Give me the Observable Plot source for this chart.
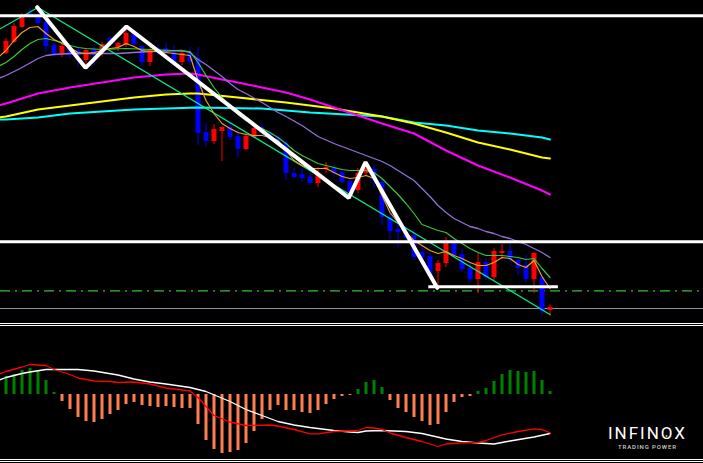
<!DOCTYPE html>
<html>
<head>
<meta charset="utf-8">
<script src="https://cdn.jsdelivr.net/npm/d3@7"></script>
<script src="https://cdn.jsdelivr.net/npm/@observablehq/plot@0.6"></script>
<style>
  html, body { margin:0; padding:0; background:#000; }
  #chart { position:relative; width:703px; height:463px; background:#000; overflow:hidden; }
  #chart svg { display:block; }
  .hl { height:1px; background:#fff; }
  .gap { height:1px; background:#000; }
  #logo { position:absolute; left:0; top:0; pointer-events:none; }
</style>
</head>
<body>
<div id="chart">
  <div id="main"></div>
  <div class="hl"></div><div class="gap"></div><div class="hl"></div>
  <div id="macd"></div>
  <div class="hl"></div><div class="gap"></div><div class="hl"></div><div class="gap"></div>
  <svg id="logo" width="703" height="463">
    <text x="608" y="439" font-family="Roboto, 'Open Sans', sans-serif" font-size="17" fill="#ffffff" textLength="77" lengthAdjust="spacing">INFINOX</text>
    <text x="618" y="449" font-family="Roboto, 'Open Sans', sans-serif" font-size="6" font-weight="500" fill="#cfcfcf" textLength="58" lengthAdjust="spacing">TRADING POWER</text>
    <circle cx="666.5" cy="436" r="1" fill="#f5c400"></circle>
  </svg>
</div>
<script>
// ---- Price bars (index 0..68), price units ----
const opens  = [277,288,303,317,313,308,285,276,283,280, 270,281,279,292,283,285,297,284,268,282, 282,280,268,277,272,198,189,199,203,194, 181,193,203,197,193,187,157,156,153,147, 161,162,158,149,140,157,161,148,113,101, 98,95,78,74,59,67,89,76,62,51, 68,53,77,79,70,65,51,53,20];
const highs  = [292,307,317,322,322,310,287,287,285,282, 282,283,288,294,288,302,299,285,283,285, 287,285,278,283,283,207,206,203,207,200, 197,205,205,200,195,190,162,162,157,163, 168,165,162,152,162,165,165,152,117,108, 104,100,85,77,70,93,93,81,67,77, 72,82,86,90,72,75,78,54,26];
const lows   = [276,287,302,312,305,278,273,273,272,264, 265,265,274,284,279,283,284,264,264,275, 275,267,265,265,185,184,186,169,190,173, 180,192,195,190,185,150,152,148,146,143, 157,153,147,136,137,154,142,105,91,83, 88,70,65,52,43,63,72,58,47,37, 50,50,71,67,55,48,37,15,14];
const closes = [289,304,313,314,307,284,276,284,275,275, 280,275,286,286,287,297,286,268,280,277, 277,268,277,268,197,189,201,203,193,181, 194,202,197,191,187,157,153,152,147,157, 163,157,148,138,157,162,150,113,99,98, 92,73,72,54,67,87,75,61,51,68, 53,79,79,70,62,51,77,19,23];

// ---- Moving averages [barIndex, price] ----
const maOrange = [[-1,273],[0,280],[1,290],[2,298],[3,303],[4,304],[5,297],[6,291],[7,287],[8,283],[9,278],[10,277],[11,278],[12,280],[13,282],[14,283],[15,287],[16,284],[17,280],[18,279],[19,279],[20,278],[21,277],[22,276],[23,275],[24,250],[25,230],[26,217],[27,207],[28,202],[29,198],[30,196],[31,195],[32,195],[33,193],[34,190],[35,180],[36,170],[37,165],[38,162],[39,162],[40,162],[41,158],[42,154],[43,152],[44,153],[45,155],[46,152],[47,135],[48,118],[49,108],[50,98],[51,90],[52,85],[53,80],[54,77],[55,79],[56,75],[57,72],[58,68],[59,65],[60,65],[61,68],[62,73],[63,72],[64,66],[65,63],[66,70],[67,54],[68,42]];
const maGreen = [[-1,264],[0,268],[1,274],[2,281],[3,287],[4,291],[5,292],[6,290],[7,288],[8,285],[9,283],[10,282],[12,281],[15,282],[18,281],[21,280],[23,279],[24,268],[25,255],[26,243],[27,233],[28,224],[29,216],[30,210],[31,206],[32,202],[33,198],[34,193],[35,187],[36,180],[37,175],[38,171],[39,167],[40,165],[41,163],[42,161],[43,160],[44,160],[45,160],[46,158],[47,152],[48,144],[49,136],[50,127],[51,117],[52,106],[53,103],[54,100],[55,98],[56,92],[57,87],[58,82],[59,78],[60,75],[61,75],[62,75],[63,74],[64,73],[65,71],[66,72],[67,62],[68,53]];
const maPurple = [[-1,252],[0,255],[2,263],[4,272],[5,275],[6,276],[8,277],[14,277],[18,279],[22,280],[23,278],[24,271],[25,266],[26,260],[27,254],[28,247],[29,241],[30,237],[32,228],[34,218],[35,214],[37,205],[39,194],[41,187],[43,181],[45,175],[46,172],[47,169],[48,165],[49,160],[50,155],[51,150],[52,142],[53,134],[54,125],[55,118],[56,112],[57,108],[58,104],[59,102],[60,99],[61,97],[62,94],[63,92],[64,89],[65,86],[66,82],[67,78],[68,73]];
const maMagenta = [[-1,225],[0,227],[4,237],[8,243],[12,248],[16,253],[20,256],[23,257],[24,256],[27,251],[29,248],[32,243],[35,238],[38,231],[41,223],[44,215],[47,207],[51,197],[55,180],[59,165],[63,153],[67,140],[68,136]];
const maYellow = [[-1,213],[0,214],[4,221],[8,225],[12,229],[16,233],[20,236],[23,237],[24,237],[29,233],[35,228],[41,222],[47,214],[51,207],[55,198],[59,188],[63,181],[67,173],[68,172]];
const maCyan = [[-1,211],[0,211],[4,213],[8,217],[12,219],[16,221],[20,222],[24,223],[32,222],[38,218],[47,214],[51,208],[55,205],[59,200],[63,197],[67,193],[68,191]];

// ---- Zigzags and levels ----
const zigzagIndicator = [[-1,300.5],[4,323],[68,16]];
const patternPath = [[3.9,323.3],[9.94,262.7],[15.06,304],[42.85,132.7],[44.94,168.3],[53.9,42.7]];
const levelsWhite = [314.7, 88.7];
const neckline = {x1: 52.85, x2: 69.05, y: 43.7};
const levelDash = 39.7;
const levelGrey = 22;

// ---- MACD ----
const macdHist = [18,20,24,26,24,14,2,-7,-15,-23, -27,-28,-25,-20,-16,-10,-8,-11,-12,-13, -12,-13,-14,-14,-30,-46,-55,-59,-58,-56, -49,-37,-25,-16,-11,-16,-16,-18,-19,-16, -10,-5,-2,-1,5,12,14,7,-6,-14, -18,-23,-27,-31,-30,-18,-8,-3,-2,3, 6,13,20,24,23,22,23,14,3];
const macdMain = [[-1,14],[0,17],[2,21],[3,22.5],[5,25],[9,25],[11,23.5],[14,19.5],[16,15.5],[18,12.5],[20,10.5],[23,7],[25,3],[28,-7],[30,-15],[32,-21],[34,-27],[36,-30.5],[38,-33],[41,-36],[43,-37.5],[44,-38],[45,-36.5],[47,-36],[50,-37],[52,-39],[55,-44.5],[57,-47],[59,-48.5],[61,-49.5],[63,-46.5],[66,-42.5],[68,-39]];
const macdSignal = [[-1,20],[0,23],[2,27.5],[3,30],[5,29],[6,25],[8,20],[9,16.5],[11,13.5],[13,13],[14,12],[16,12.5],[18,10.5],[20,6.5],[23,3.5],[24,-3],[26,-21],[28,-27.5],[30,-31],[33,-30.5],[34,-31.5],[36,-35],[38,-39.3],[39,-39.3],[41,-37],[44,-36],[45,-33],[46,-33.5],[47,-35],[48,-38.5],[50,-43],[52,-47],[54,-52],[55,-49.5],[57,-48.3],[59,-48],[60,-46],[62,-40.3],[64,-37],[66,-34.3],[67,-35],[68,-38.3]];

const candles = opens.map((o, i) => ({i, o, h: highs[i], l: lows[i], c: closes[i]}));
const candleColor = d => d.c >= d.o ? "#ff0000" : "#0000ff";
const xOpt = {type: "linear", domain: [-0.6875, 87.1875], range: [0, 703], axis: null};
const px = d => d[0], py = d => d[1];

const mainPlot = Plot.plot({
  width: 703, height: 323, margin: 0,
  style: {background: "#000"},
  x: xOpt,
  y: {domain: [7, 330], range: [323, 0], axis: null},
  color: {type: "identity"},
  marks: [
    Plot.ruleY([levelDash], {stroke: "#2ec42e", strokeWidth: 1.3, strokeDasharray: "10,5,2,5"}),
    Plot.ruleY([levelGrey], {stroke: "#8797a8", strokeWidth: 1}),
    Plot.ruleX(candles, {x: "i", y1: "l", y2: "h", stroke: candleColor, strokeWidth: 1}),
    Plot.ruleX(candles, {x: "i", y1: "o", y2: "c", stroke: candleColor, strokeWidth: 5}),
    Plot.line(maCyan, {x: px, y: py, stroke: "#00ffff", strokeWidth: 2, clip: true}),
    Plot.line(maYellow, {x: px, y: py, stroke: "#ffff00", strokeWidth: 2, clip: true}),
    Plot.line(maMagenta, {x: px, y: py, stroke: "#ff00ff", strokeWidth: 2, clip: true}),
    Plot.line(maPurple, {x: px, y: py, stroke: "#9370db", strokeWidth: 1.3, clip: true}),
    Plot.line(zigzagIndicator, {x: px, y: py, stroke: "#00f08a", strokeWidth: 1.2, clip: true}),
    Plot.line(maGreen, {x: px, y: py, stroke: "#33cc33", strokeWidth: 1.2, clip: true}),
    Plot.line(maOrange, {x: px, y: py, stroke: "#f0a020", strokeWidth: 1.2, clip: true}),
    Plot.ruleY(levelsWhite, {stroke: "#ffffff", strokeWidth: 3}),
    Plot.ruleY([neckline], {x1: "x1", x2: "x2", y: "y", stroke: "#ffffff", strokeWidth: 3}),
    Plot.line(patternPath, {x: px, y: py, stroke: "#ffffff", strokeWidth: 4, strokeLinejoin: "miter"})
  ]
});
document.getElementById("main").appendChild(mainPlot);

const macdPlot = Plot.plot({
  width: 703, height: 133, margin: 0,
  style: {background: "#000"},
  x: xOpt,
  y: {domain: [-65, 68], range: [133, 0], axis: null},
  color: {type: "identity"},
  marks: [
    Plot.ruleX(macdHist, {x: (d, i) => i, y1: 0, y2: d => d, stroke: d => d >= 0 ? "#008000" : "#ff7f50", strokeWidth: 3}),
    Plot.line(macdMain, {x: px, y: py, stroke: "#ffffff", strokeWidth: 1.3, clip: true}),
    Plot.line(macdSignal, {x: px, y: py, stroke: "#ff0000", strokeWidth: 1.3, clip: true})
  ]
});
document.getElementById("macd").appendChild(macdPlot);
</script>
</body>
</html>
